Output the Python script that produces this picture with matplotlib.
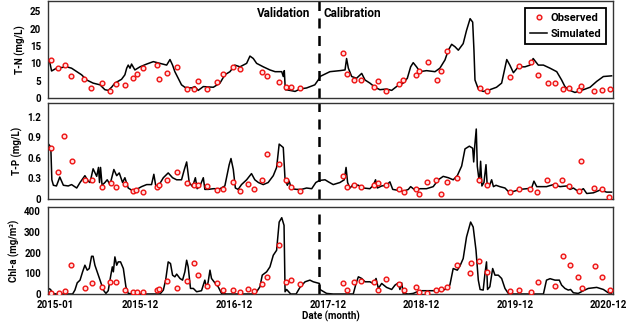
import numpy as np
import matplotlib
matplotlib.use("Agg")
import matplotlib.pyplot as plt
import matplotlib.dates as mdates

plt.rcParams['font.family'] = ['Roboto', 'DejaVu Sans']
plt.rcParams['font.weight'] = 'bold'

# time is in months counted from 2015-01-01
tn_sim_t = [-0.73, -0.43, 0.21, 1.50, 2.14, 3.42, 4.06, 4.91, 5.77, 6.41, 6.84, 7.26, 7.69, 8.55, 8.97,
            9.19, 9.40, 9.62, 9.83, 10.26, 10.90, 11.75, 12.61, 13.46, 14.32, 14.74, 15.09, 15.38, 15.81,
            16.24, 16.67, 17.52, 17.95, 18.38, 19.02, 20.30, 21.15, 21.79, 22.44, 23.08, 23.72, 24.57,
            25.00, 25.43, 25.85, 26.71, 27.56, 28.21, 29.06, 29.27, 29.40, 29.53, 30.13, 30.77, 31.41,
            32.26, 33.33, 33.89, 33.97, 35.26, 36.54, 37.18, 37.39, 37.61, 38.03, 38.68, 39.32, 39.74,
            40.38, 41.03, 41.67, 42.52, 43.16, 43.80, 44.66, 45.17, 45.60, 45.94, 46.37, 46.79, 47.65,
            48.72, 49.36, 50.00, 50.43, 50.85, 51.28, 51.71, 52.35, 52.78, 53.21, 53.55, 53.72, 53.85,
            54.27, 54.91, 55.77, 56.62, 57.26, 57.91, 58.33, 58.76, 59.40, 60.26, 60.90, 61.32, 61.97,
            62.61, 63.46, 64.32, 64.96, 65.38, 65.81, 66.67, 67.74, 68.59, 69.44, 70.30, 71.37]
tn_sim_v = [11.0, 7.8, 8.6, 9.0, 8.6, 6.7, 5.2, 4.3, 3.8, 2.4, 2.2, 3.1, 4.3, 5.4, 6.7,
            8.6, 9.5, 8.6, 9.8, 8.1, 9.0, 9.8, 10.5, 10.0, 9.5, 11.1, 9.5, 7.6, 5.7,
            3.8, 3.1, 2.9, 3.3, 2.2, 3.3, 3.1, 4.3, 6.7, 7.6, 9.5, 9.0, 10.0,
            12.1, 11.4, 10.0, 9.0, 8.1, 7.6, 7.6, 6.2, 7.9, 2.4, 2.2, 1.9, 2.6,
            2.9, 3.8, 5.7, 6.2, 7.6, 7.9, 8.1, 11.4, 8.6, 6.2, 5.7, 7.1, 5.2,
            4.3, 3.1, 2.4, 2.6, 2.2, 3.3, 4.3, 5.7, 9.0, 10.2, 9.0, 7.6, 7.9,
            7.6, 8.6, 11.0, 13.8, 15.5, 14.8, 13.8, 15.7, 19.5, 22.9, 21.9, 13.8, 5.2,
            2.6, 1.9, 2.4, 3.1, 4.3, 11.1, 9.5, 7.3, 9.0, 9.0, 9.5, 11.4, 9.5,
            9.5, 8.6, 7.6, 5.2, 3.3, 2.4, 1.6, 2.4, 3.1, 4.8, 6.2, 6.4]

tn_obs_t = [-0.56, 0.43, 1.28, 2.05, 3.72, 4.62, 6.07, 7.05, 7.78, 8.97, 9.96, 10.47, 11.32, 13.12,
            13.33, 14.36, 15.64, 16.88, 17.82, 18.29, 19.44, 20.77, 21.50, 22.86, 23.72, 26.50, 27.18,
            28.68, 29.57, 30.26, 31.41, 36.97, 37.48, 38.33, 39.27, 40.94, 41.37, 42.44, 44.15, 44.66,
            46.24, 46.71, 47.78, 48.93, 49.44, 50.21, 54.49, 55.43, 58.38, 59.53, 60.98, 61.88, 63.21,
            64.15, 65.13, 65.94, 67.14, 67.44, 69.15, 70.13, 71.11]
tn_obs_v = [11.0, 8.8, 9.5, 6.4, 5.6, 3.0, 4.3, 2.0, 3.9, 3.8, 5.8, 7.0, 8.6, 9.5,
            5.4, 7.3, 9.0, 2.7, 2.6, 4.9, 2.6, 4.5, 6.9, 8.9, 8.3, 7.6, 6.4,
            4.7, 3.3, 3.1, 3.0, 13.0, 7.0, 5.2, 5.2, 3.1, 5.0, 2.0, 4.1, 5.2,
            6.5, 7.7, 10.5, 5.2, 7.7, 13.6, 3.0, 2.0, 6.2, 9.2, 10.3, 6.7, 4.3,
            4.2, 2.6, 2.8, 2.2, 3.5, 2.1, 2.4, 2.7]

tp_sim_t = [-0.81, -0.64, -0.51, -0.38, -0.21, 0.21, 0.64, 1.07, 1.71, 2.14, 2.78, 3.21, 3.85, 4.27,
            4.49, 4.91, 5.34, 5.60, 5.73, 5.85, 6.03, 6.41, 6.71, 7.05, 7.56, 7.91, 8.25, 8.68, 8.97,
            9.40, 9.83, 10.47, 11.11, 11.75, 12.39, 12.69, 12.95, 13.38, 13.89, 14.53, 15.09, 15.60,
            16.24, 16.58, 16.88, 17.22, 17.65, 17.99, 18.25, 18.59, 19.02, 19.23, 19.66, 20.30, 21.15,
            21.79, 22.35, 22.56, 22.86, 23.12, 23.50, 23.93, 24.57, 25.21, 25.64, 26.07, 26.71, 27.35,
            27.99, 28.42, 28.76, 29.06, 29.27, 29.49, 29.79, 30.04, 30.34, 30.98, 31.62, 32.26, 32.91,
            33.46, 33.89, 34.62, 35.04, 35.68, 36.54, 37.09, 37.31, 37.52, 37.82, 38.25, 38.89, 39.53,
            40.38, 40.81, 41.11, 41.32, 41.88, 42.52, 42.95, 43.29, 43.80, 44.66, 45.30, 45.60, 46.15,
            46.79, 47.65, 48.50, 49.15, 49.79, 50.43, 51.07, 51.58, 52.14, 52.56, 53.12, 53.55, 53.68,
            53.80, 54.02, 54.15, 54.40, 54.57, 54.74, 55.00, 55.26, 55.43, 55.77, 55.98, 56.20, 56.54,
            57.05, 57.69, 58.12, 58.76, 59.62, 60.47, 61.11, 61.41, 61.75, 62.39, 63.03, 63.89, 64.74,
            65.60, 66.03, 66.45, 67.09, 67.74, 68.16, 69.02, 69.87, 70.73, 71.37]
tp_sim_v = [0.80, 0.77, 0.75, 0.28, 0.20, 0.19, 0.32, 0.20, 0.19, 0.21, 0.16, 0.24, 0.34, 0.26,
            0.24, 0.44, 0.33, 0.46, 0.24, 0.46, 0.20, 0.24, 0.28, 0.21, 0.43, 0.34, 0.38, 0.24, 0.31,
            0.16, 0.13, 0.14, 0.18, 0.21, 0.21, 0.36, 0.18, 0.21, 0.31, 0.38, 0.31, 0.28,
            0.28, 0.43, 0.54, 0.24, 0.18, 0.31, 0.15, 0.19, 0.31, 0.14, 0.14, 0.15, 0.15,
            0.19, 0.50, 0.59, 0.43, 0.16, 0.14, 0.21, 0.28, 0.37, 0.28, 0.24, 0.21, 0.24,
            0.34, 0.46, 0.80, 0.77, 0.75, 0.28, 0.20, 0.26, 0.15, 0.14, 0.14, 0.16, 0.15,
            0.24, 0.27, 0.28, 0.25, 0.21, 0.24, 0.28, 0.46, 0.24, 0.16, 0.21, 0.20, 0.16,
            0.15, 0.20, 0.28, 0.16, 0.19, 0.20, 0.25, 0.14, 0.13, 0.11, 0.14, 0.18, 0.13,
            0.15, 0.15, 0.18, 0.28, 0.33, 0.31, 0.28, 0.34, 0.48, 0.73, 0.77, 0.74, 0.54,
            0.77, 1.02, 0.48, 0.24, 0.55, 0.19, 0.24, 0.50, 0.18, 0.21, 0.28, 0.18, 0.20,
            0.18, 0.16, 0.11, 0.11, 0.14, 0.15, 0.16, 0.26, 0.18, 0.18, 0.18, 0.21, 0.18,
            0.19, 0.14, 0.16, 0.11, 0.15, 0.08, 0.09, 0.13, 0.10, 0.10]

tp_obs_t = [-0.56, 0.43, 1.20, 2.14, 3.80, 4.70, 6.07, 7.14, 7.82, 9.02, 9.96, 10.43, 11.32, 13.12,
            13.38, 14.40, 15.64, 16.88, 17.82, 18.29, 19.44, 20.77, 21.50, 22.86, 23.72, 24.70, 25.47,
            26.50, 27.14, 28.68, 29.57, 30.26, 31.41, 36.97, 37.48, 38.33, 39.27, 40.90, 41.37, 42.44,
            44.15, 44.74, 46.24, 46.71, 47.74, 48.85, 49.44, 50.26, 51.50, 54.40, 55.34, 58.38, 59.49,
            60.90, 61.84, 63.12, 64.10, 65.04, 65.90, 67.14, 67.39, 69.10, 70.09, 71.03]
tp_obs_v = [0.75, 0.39, 0.92, 0.55, 0.27, 0.27, 0.17, 0.23, 0.18, 0.22, 0.12, 0.13, 0.10, 0.17,
            0.20, 0.27, 0.40, 0.23, 0.20, 0.20, 0.19, 0.13, 0.15, 0.25, 0.12, 0.22, 0.15,
            0.28, 0.66, 0.51, 0.28, 0.17, 0.12, 0.34, 0.17, 0.20, 0.17, 0.20, 0.24, 0.21,
            0.14, 0.10, 0.15, 0.08, 0.25, 0.27, 0.08, 0.25, 0.30, 0.27, 0.21, 0.10, 0.15,
            0.15, 0.10, 0.28, 0.21, 0.28, 0.19, 0.12, 0.56, 0.16, 0.14, 0.03]

chl_sim_t = [-0.81, -0.56, -0.30, 0.21, 2.26, 2.56, 2.86, 3.21, 3.55, 3.85, 4.15, 4.40, 4.70, 4.91,
             5.13, 5.43, 5.77, 6.20, 6.54, 6.84, 7.14, 7.35, 7.48, 7.69, 7.91, 8.12, 8.42, 8.76, 9.10,
             9.40, 10.04, 13.46, 13.89, 14.19, 14.53, 14.83, 15.09, 15.38, 15.60, 16.03, 16.37, 16.67,
             16.88, 17.09, 17.39, 17.74, 18.16, 18.80, 19.23, 19.44, 19.66, 19.87, 20.09, 20.51, 20.94,
             21.37, 22.01, 25.43, 25.85, 26.28, 26.58, 27.14, 27.56, 27.99, 28.42, 28.76, 29.06, 29.36,
             29.49, 29.70, 29.96, 30.21, 30.90, 31.41, 32.05, 32.69, 33.12, 33.89, 33.97, 34.83, 35.68,
             38.25, 38.59, 38.89, 39.32, 39.74, 40.38, 40.81, 41.15, 41.45, 41.88, 42.52, 43.16, 43.59,
             44.02, 44.23, 44.44, 44.66, 45.30, 45.94, 46.79, 49.36, 50.00, 50.64, 51.07, 51.58, 51.92,
             52.35, 52.78, 53.29, 53.63, 53.97, 54.27, 54.49, 54.91, 55.13, 55.34, 55.47, 55.77, 56.11,
             56.41, 56.84, 57.26, 57.69, 58.12, 58.76, 62.61, 63.03, 63.46, 64.10, 64.66, 64.96, 65.38,
             65.81, 66.11, 66.45, 67.09, 67.74, 68.38, 69.44, 70.30, 70.94, 71.37]
chl_sim_v = [27, 22, 3, 0, 0, 19, 54, 67, 107, 139, 115, 123, 182, 182,
             139, 107, 67, 19, 3, 16, 83, 131, 107, 179, 139, 155, 155, 123, 35,
             3, 0, 0, 19, 67, 155, 147, 91, 83, 96, 75, 67, 107,
             163, 131, 27, 27, 11, 16, 67, 27, 59, 115, 75, 54, 35,
             3, 0, 0, 11, 35, 91, 107, 131, 187, 211, 347, 368, 331,
             11, 22, 11, 0, 0, 32, 59, 67, 59, 51, 22, 3, 0,
             0, 51, 83, 75, 59, 59, 51, 75, 27, 51, 32, 22, 43,
             54, 22, 54, 3, 0, 3, 16, 16, 22, 43, 123, 115, 134,
             171, 275, 347, 323, 211, 67, 22, 19, 99, 155, 22, 35, 123,
             91, 91, 75, 27, 3, 0, 0, 67, 74, 67, 67, 43, 27,
             19, 22, 6, 3, 16, 27, 32, 22, 6, 3]

chl_obs_t = [-0.51, 0.47, 1.28, 2.09, 3.80, 4.70, 6.07, 7.05, 7.78, 8.97, 9.96, 10.47, 11.32, 13.12,
             13.38, 14.40, 15.64, 16.88, 17.86, 18.29, 19.44, 20.77, 21.50, 22.86, 23.72, 24.70, 25.47,
             26.50, 27.14, 28.68, 29.57, 30.34, 31.41, 36.97, 37.48, 38.38, 39.27, 40.94, 41.37, 42.44,
             44.15, 44.74, 46.24, 46.71, 47.74, 48.85, 49.44, 50.21, 51.50, 53.21, 53.29, 54.40, 55.34,
             58.33, 59.53, 60.98, 61.88, 64.15, 65.17, 66.03, 67.09, 67.52, 69.23, 70.13, 71.11]
chl_obs_v = [5, 6, 16, 139, 30, 51, 32, 59, 59, 19, 8, 10, 8, 19,
             22, 62, 27, 64, 149, 90, 37, 51, 18, 21, 11, 22, 16,
             48, 83, 235, 59, 67, 48, 51, 19, 58, 62, 58, 21, 72,
             50, 19, 32, 10, 6, 19, 26, 34, 141, 99, 149, 158, 107,
             16, 19, 10, 58, 37, 182, 141, 83, 30, 134, 80, 18]

tick_labels = ["2015-01", "2015-12", "2016-12", "2017-12", "2018-12", "2019-12", "2020-12"]
split_month = 33.85


def to_dates(months):
    days = np.round(np.asarray(months, dtype=float) * 30.4375).astype(int)
    return np.datetime64("2015-01-01") + days.astype("timedelta64[D]")


panels = [
    ("T-N (mg/L)", tn_sim_t, tn_sim_v, tn_obs_t, tn_obs_v, 28, [0, 5, 10, 15, 20, 25]),
    ("T-P (mg/L)", tp_sim_t, tp_sim_v, tp_obs_t, tp_obs_v, 1.4, [0, 0.3, 0.6, 0.9, 1.2]),
    ("Chl-a (mg/m³)", chl_sim_t, chl_sim_v, chl_obs_t, chl_obs_v, 420, [0, 100, 200, 300, 400]),
]
rects = [[0.075, 0.703, 0.883, 0.294],
         [0.075, 0.397, 0.883, 0.291],
         [0.075, 0.109, 0.883, 0.264]]

fig = plt.figure(figsize=(6.4, 3.3), dpi=100)
axes = []
for (ylab, st, sv, ot, ov, ytop, yt), r in zip(panels, rects):
    ax = fig.add_axes(r)
    ax.plot(to_dates(st), sv, color="black", lw=1.1, label="Simulated", zorder=2)
    ax.plot(to_dates(ot), ov, "o", ms=3.4, mfc="#ffe0e0", mec="#ee1111", mew=1.0,
            label="Observed", zorder=3)
    ax.axvline(to_dates([split_month])[0], color="black", lw=1.8, dashes=(4, 3), zorder=1)
    ax.set_ylim(0, ytop)
    ax.set_yticks(yt)
    ax.set_yticklabels(["{:g}".format(v) for v in yt])
    ax.set_xlim(to_dates([-0.9])[0], to_dates([71.55])[0])
    ax.set_ylabel(ylab, fontsize=7, fontweight="bold", labelpad=3)
    ax.tick_params(axis="y", length=0, labelsize=7, pad=5)
    ax.tick_params(axis="x", length=0, labelsize=7, pad=4)
    for lab in ax.get_yticklabels():
        lab.set_fontweight("bold")
    for s in ax.spines.values():
        s.set_color("#333333")
        s.set_linewidth(1.0)
    axes.append(ax)

tick_dates = np.array([np.datetime64(t + "-01") for t in tick_labels])
for ax in axes:
    ax.set_xticks(tick_dates)
    ax.xaxis.set_major_formatter(mdates.DateFormatter("%Y-%m"))
    for lab in ax.get_xticklabels():
        lab.set_fontweight("bold")
for ax in axes[:2]:
    ax.tick_params(labelbottom=False)
axes[2].set_xlabel("Date (month)", fontsize=7, fontweight="bold", labelpad=1)

ax1 = axes[0]
ax1.text(0.464, 0.87, "Validation", transform=ax1.transAxes, ha="right", va="center",
         fontsize=8.5, fontweight="bold")
ax1.text(0.487, 0.87, "Calibration", transform=ax1.transAxes, ha="left", va="center",
         fontsize=8.5, fontweight="bold")
h, l = ax1.get_legend_handles_labels()
leg = ax1.legend(h[::-1], l[::-1], loc="upper right", frameon=True, fancybox=False,
                 framealpha=1, edgecolor="black", borderpad=0.5, handlelength=1.5,
                 handletextpad=0.3, labelspacing=0.5, borderaxespad=0.6,
                 prop={"size": 8, "weight": "bold"})
leg.get_frame().set_linewidth(1.3)

fig.savefig("out.png", dpi=100)
